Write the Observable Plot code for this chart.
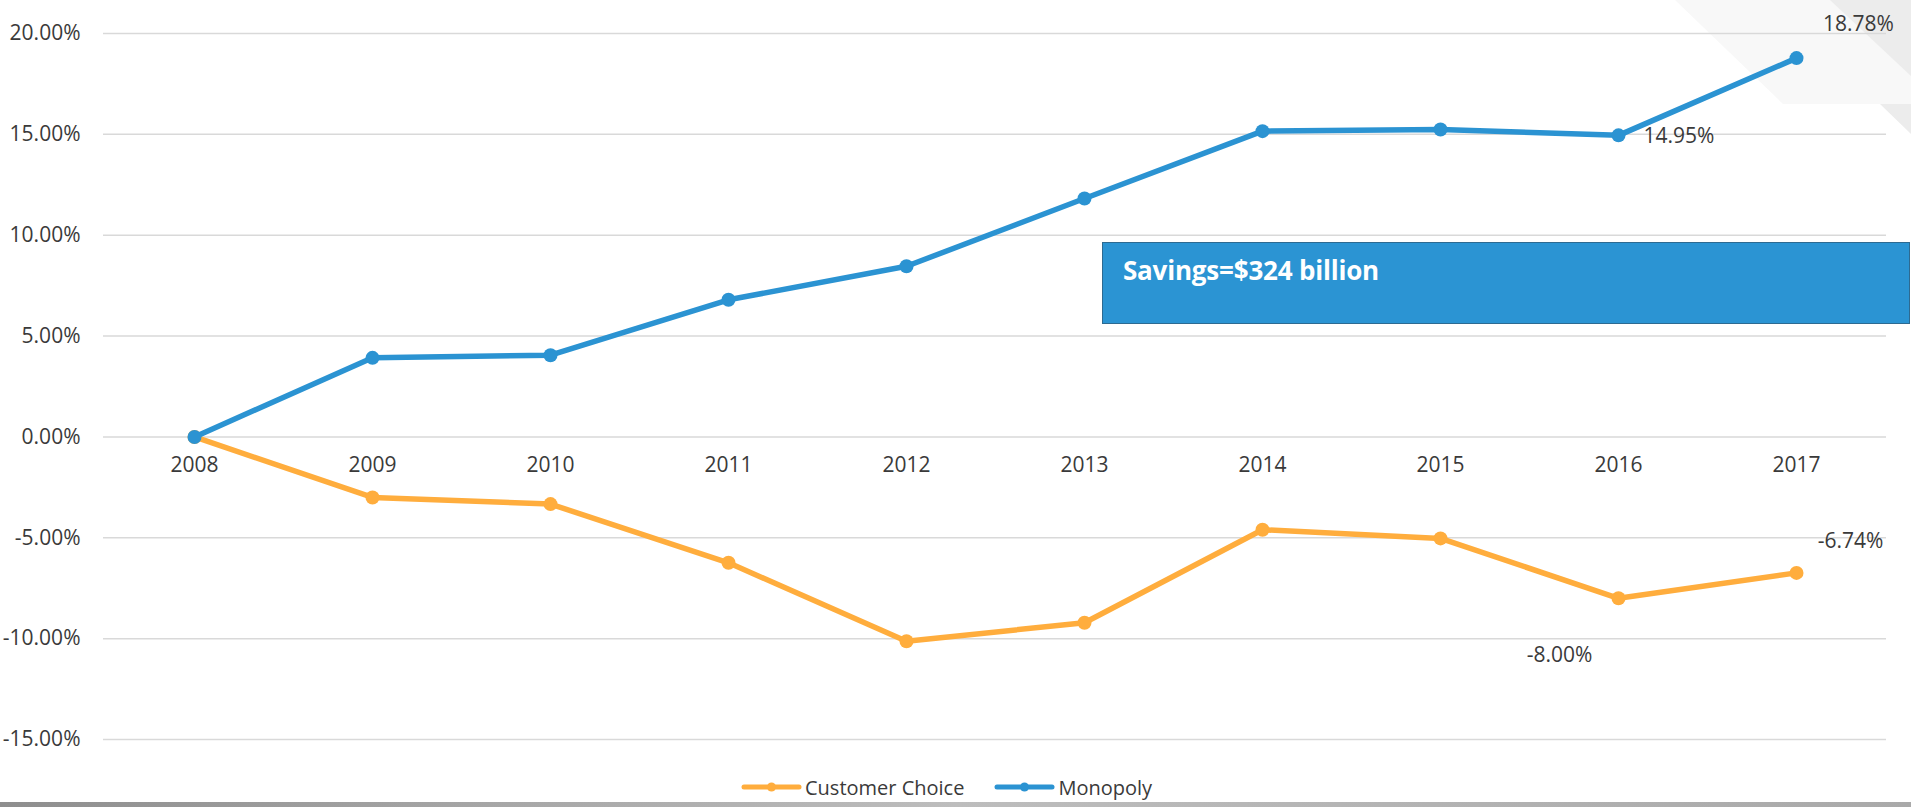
<!DOCTYPE html>
<html>
<head>
<meta charset="utf-8">
<script src="https://cdn.jsdelivr.net/npm/d3@7"></script>
<script src="https://cdn.jsdelivr.net/npm/@observablehq/plot@0.6"></script>
<style>
  html, body { margin: 0; padding: 0; background: #ffffff; }
  #wrap { position: relative; width: 1911px; height: 807px; overflow: hidden; font-family: "Open Sans", sans-serif; }
  #deco { position: absolute; left: 0; top: 0; }
  #chart { position: absolute; left: 0; top: 0; }
  #box { position: absolute; left: 1102px; top: 242px; width: 806px; height: 80px;
         background: #2b94d3; border: 1.5px solid #2d6a91; }
  #box span { position: absolute; left: 20px; top: 9px; color: #ffffff; font-weight: 700;
              font-size: 26px; font-family: "Open Sans", sans-serif; letter-spacing: -0.2px; }
  #legend { position: absolute; left: 741px; top: 774px; display: flex; align-items: center;
            font-size: 20px; color: #3a3a3a; height: 26px; }
  #legend .item { display: flex; align-items: center; margin-right: 30px; }
  #legend svg { display: block; margin-right: 3px; }
  #bar { position: absolute; left: 0; top: 802px; width: 1911px; height: 5px;
         background: linear-gradient(to right, #8e8e8e, #bdbdbd 50%, #a9a9a9); }
</style>
</head>
<body>
<div id="wrap">
  <svg id="deco" width="1911" height="807">
    <polygon points="1675,0 1911,0 1911,104 1783,104" fill="#f8f8f8"/>
    <polygon points="1830,0 1911,0 1911,76" fill="#ececec"/>
    <polygon points="1880,104 1911,104 1911,134" fill="#ececec"/>
  </svg>
  <div id="chart"></div>
  <div id="box"><span>Savings=$324 billion</span></div>
  <div id="legend"></div>
  <div id="bar"></div>
</div>
<script>
const years = [2008, 2009, 2010, 2011, 2012, 2013, 2014, 2015, 2016, 2017];
const monopoly = [0, 3.92, 4.05, 6.8, 8.46, 11.82, 15.16, 15.24, 14.95, 18.78];
const customerChoice = [0, -3.0, -3.33, -6.24, -10.13, -9.21, -4.6, -5.03, -8.0, -6.74];
const yTicks = [-15, -10, -5, 0, 5, 10, 15, 20];
const seriesNames = ["Customer Choice", "Monopoly"];
const seriesColors = ["#ffad3d", "#2b93d2"];

// labelled points
const labelYears = [
  {series: "Monopoly", year: 2016, text: "14.95%"},
  {series: "Monopoly", year: 2017, text: "18.78%"},
  {series: "Customer Choice", year: 2016, text: "-8.00%"},
  {series: "Customer Choice", year: 2017, text: "-6.74%"}
];

const custRows = years.map((y, i) => ({year: y, value: customerChoice[i]}));
const monoRows = years.map((y, i) => ({year: y, value: monopoly[i]}));
const valueOf = (s, yr) => (s === "Monopoly" ? monopoly : customerChoice)[years.indexOf(yr)];
const lab = (s, yr) => labelYears.filter(d => d.series === s && d.year === yr).map(d => ({...d, value: valueOf(d.series, d.year)}));

const txt = "#3a3a3a";
const plot = Plot.plot({
  width: 1911,
  height: 770,
  marginTop: 33,
  marginBottom: 31,
  marginLeft: 103,
  marginRight: 25,
  x: {type: "point", domain: years, padding: 0.5, axis: null},
  y: {domain: [-15, 20], axis: null},
  style: {fontFamily: "'Open Sans', sans-serif", fontSize: "21px", color: txt, background: "transparent", overflow: "visible"},
  marks: [
    Plot.gridY(yTicks, {stroke: "#d9d9d9", strokeOpacity: 1, strokeWidth: 1.5}),
    Plot.axisY(yTicks, {tickSize: 0, tickPadding: 23, tickFormat: d => d.toFixed(2) + "%", fill: txt, fontSize: 21, label: null}),
    Plot.text(years, {x: d => d, y: 0, dy: 28, text: d => String(d), fill: txt, fontSize: 21}),
    Plot.line(custRows, {x: "year", y: "value", stroke: seriesColors[0], strokeWidth: 5.5, strokeLinejoin: "round"}),
    Plot.dot(custRows, {x: "year", y: "value", r: 7, fill: seriesColors[0]}),
    Plot.line(monoRows, {x: "year", y: "value", stroke: seriesColors[1], strokeWidth: 5.5, strokeLinejoin: "round"}),
    Plot.dot(monoRows, {x: "year", y: "value", r: 7, fill: seriesColors[1]}),
    Plot.text(lab("Monopoly", 2016), {x: "year", y: "value", text: "text", textAnchor: "start", dx: 25, dy: 1, fill: txt, fontSize: 21}),
    Plot.text(lab("Monopoly", 2017), {x: "year", y: "value", text: "text", textAnchor: "middle", dx: 62, dy: -34, fill: txt, fontSize: 21}),
    Plot.text(lab("Customer Choice", 2016), {x: "year", y: "value", text: "text", textAnchor: "middle", dx: -59, dy: 57, fill: txt, fontSize: 21}),
    Plot.text(lab("Customer Choice", 2017), {x: "year", y: "value", text: "text", textAnchor: "middle", dx: 54, dy: -32, fill: txt, fontSize: 21})
  ]
});
document.getElementById("chart").appendChild(plot);

const legend = document.getElementById("legend");
seriesNames.forEach((name, i) => {
  const item = document.createElement("div");
  item.className = "item";
  item.innerHTML = `<svg width="61" height="14"><line x1="3" y1="7" x2="58" y2="7" stroke="${seriesColors[i]}" stroke-width="5" stroke-linecap="round"/><circle cx="30.5" cy="7" r="4.5" fill="${seriesColors[i]}"/></svg><span>${name}</span>`;
  legend.appendChild(item);
});
</script>
</body>
</html>
